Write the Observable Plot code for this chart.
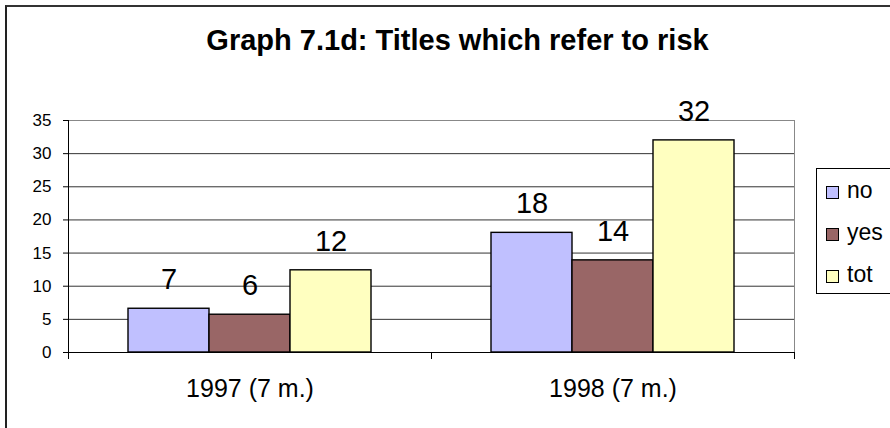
<!DOCTYPE html>
<html>
<head>
<meta charset="utf-8">
<script src="https://cdn.jsdelivr.net/npm/d3@7"></script>
<script src="https://cdn.jsdelivr.net/npm/@observablehq/plot@0.6"></script>
<style>
  html, body { margin: 0; padding: 0; background: #fff; }
  #wrap { position: relative; width: 890px; height: 428px; overflow: hidden; background: #fff;
          font-family: "Liberation Sans", Arial, sans-serif; }
  #border { position: absolute; left: 5px; top: 5px; width: 1000px; height: 1000px;
            border-left: 2px solid #222; border-top: 2px solid #333; box-sizing: border-box; }
  #title { position: absolute; left: 0; width: 915px; top: 26px; text-align: center;
           font-weight: bold; font-size: 29px; line-height: 29px; color: #000; }
  #chart { position: absolute; left: 0; top: 0; }
  #legend { position: absolute; left: 816px; top: 168px; width: 120px; height: 126px;
            border: 1px solid #000; box-sizing: border-box; background: #fff; }
  .item { position: absolute; left: 0; height: 23px; }
  .sw { position: absolute; left: 9px; width: 13px; height: 13px; border: 1px solid #000; box-sizing: border-box; }
  .lb { position: absolute; left: 30px; font-size: 23px; line-height: 23px; white-space: nowrap; color: #000; }
</style>
</head>
<body>
<div id="wrap">
  <div id="border"></div>
  <div id="chart"></div>
  <div id="title"></div>
  <div id="legend"></div>
</div>
<script>
// ---- data ----
const titleText = "Graph 7.1d: Titles which refer to risk";
const years = ["1997 (7 m.)", "1998 (7 m.)"];
const series = ["no", "yes", "tot"];
const colors = ["#C0C0FF", "#996666", "#FFFFC0"];
const values1997 = [6.6, 5.7, 12.4];
const values1998 = [18.05, 13.9, 32.0];
const yTicks = [0, 5, 10, 15, 20, 25, 30, 35];

const valuesByYear = [values1997, values1998];
const rows = [];
years.forEach((yr, i) => series.forEach((s, j) => rows.push({year: yr, series: s, value: valuesByYear[i][j]})));

const W = 890, H = 428, mt = 120, mb = 76, ml = 67, mr = 96;
const innerH = H - mt - mb;

const plot = Plot.plot({
  width: W,
  height: H,
  marginTop: mt,
  marginBottom: mb,
  marginLeft: ml,
  marginRight: mr,
  style: {fontFamily: "'Liberation Sans', Arial, sans-serif", fontSize: "17px", color: "#000", background: "transparent"},
  fx: {domain: years, padding: 0, label: null},
  x: {domain: series, paddingInner: 0, paddingOuter: 0.725, axis: null},
  y: {domain: [0, 35], label: null},
  color: {domain: series, range: colors},
  marks: [
    Plot.ruleY(yTicks.filter(d => d > 0 && d < 35), {stroke: "#333", strokeWidth: 1}),
    Plot.ruleY([35], {stroke: "#888", strokeWidth: 1}),
    Plot.frame({anchor: "right", stroke: "#888", fx: [years[1]]}),
    Plot.barY(rows, {fx: "year", x: "series", y: "value", fill: "series", stroke: "#000", strokeWidth: 1.4}),
    Plot.text(rows, {fx: "year", x: "series", y: "value", text: d => String(Math.round(d.value)),
      dy: -19.5, lineAnchor: "bottom", fontSize: 29, fill: "#000"}),
    Plot.ruleY([0], {stroke: "#000", strokeWidth: 1}),
    Plot.frame({anchor: "left", stroke: "#000", fx: [years[0]], insetBottom: -6}),
    Plot.frame({anchor: "left", stroke: "#000", fx: [years[1]], insetTop: innerH, insetBottom: -6}),
    Plot.frame({anchor: "right", stroke: "#000", fx: [years[1]], insetTop: innerH, insetBottom: -6}),
    Plot.axisY({ticks: yTicks, tickSize: 5, tickPadding: 12, fontSize: 17, label: null, stroke: "#000"}),
    Plot.axisFx({anchor: "bottom", tickSize: 0, tickPadding: 27, fontSize: 25, label: null})
  ]
});
document.getElementById("chart").appendChild(plot);

document.getElementById("title").textContent = titleText;

const legend = document.getElementById("legend");
const baselines = [30, 72, 114];
series.forEach((s, i) => {
  const item = document.createElement("div");
  item.className = "item";
  item.style.top = "0px";
  const sw = document.createElement("div");
  sw.className = "sw";
  sw.style.background = colors[i];
  sw.style.top = (baselines[i] - 13) + "px";
  const lb = document.createElement("div");
  lb.className = "lb";
  lb.textContent = s;
  lb.style.top = (baselines[i] - 20) + "px";
  item.appendChild(sw);
  item.appendChild(lb);
  legend.appendChild(item);
});
</script>
</body>
</html>
